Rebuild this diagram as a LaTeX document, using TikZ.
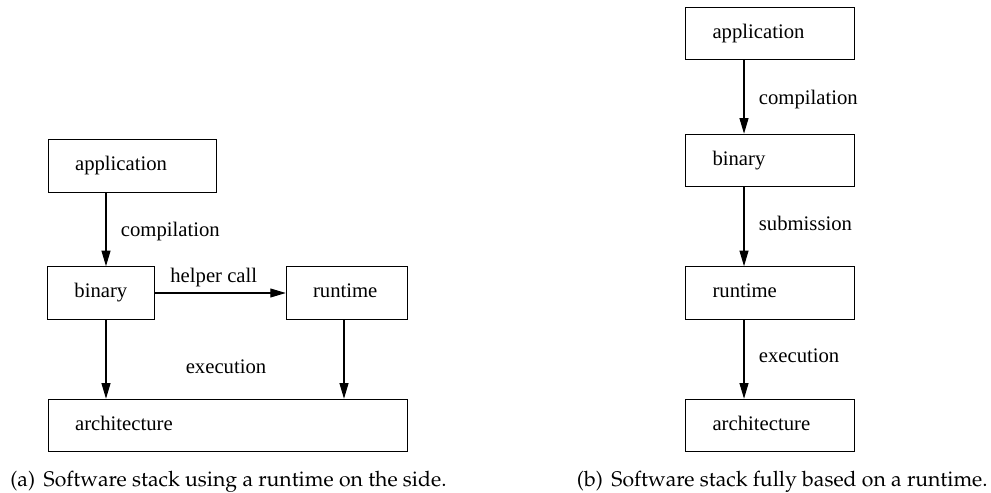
\documentclass[tikz,border=0pt]{standalone}
\usepackage[T1]{fontenc}
\usepackage{fontspec}
\setmainfont{Liberation Serif}
\usepackage{tikz}
\usetikzlibrary{arrows.meta}
\usetikzlibrary{positioning}
\tikzstyle{line} = [draw, -{Triangle[length=9pt,width=5.2pt]}, line width=0.6pt]
\tikzstyle{layer} = [draw, line width=0.6pt, minimum height=30.5pt, inner xsep=15.5pt, align=left, text height=8.2pt, text depth=2.6pt, font=\fontsize{12}{14}\selectfont]
\tikzstyle{lbl} = [font=\fontsize{12}{14}\selectfont]
\newcommand{\capfont}{\fontencoding{T1}\fontfamily{ppl}\fontsize{12.3}{14}\selectfont}

\begin{document}
\begin{tikzpicture}[x=0.58pt, y=-0.58pt]
	\useasboundingbox (0,0) rectangle (991,493);
	% -------------- Stack (a) --------------
	\node[layer, text width=66.6pt] (appA)  at (132.5,166)   {application};
	\node[layer, text width=30.8pt] (binA)  at (101,293)     {binary};
	\node[layer, text width=39.4pt] (rtA)   at (347,293)     {runtime};
	\node[layer, text width=177.4pt] (archA) at (228,425.5)  {architecture};
	\coordinate (colA) at (106,0);
	\coordinate (colB) at (344,0);
	\draw[line] (appA.south -| colA) -- node[lbl, right=5pt, pos=0.53]{compilation} (binA.north -| colA);
	\draw[line] (binA.east) -- node[lbl, above, pos=0.45]{helper call} (rtA.west);
	\draw[line] (binA.south -| colA) -- (archA.north -| colA);
	\draw[line] (rtA.south -| colB)  -- (archA.north -| colB);
	\node[lbl] (execA) at (226,367) {execution};
	\node[anchor=west, inner sep=0] (capA) at (10,481.5) {\capfont (a)\hspace{5pt}Software stack using a runtime on the side.};
	% -------------- Stack (b) --------------
	\node[layer, text width=67pt] (appB)  at (770.3,33.5)  {application};
	\node[layer, text width=67pt] (binB)  at (770.3,160.5) {binary};
	\node[layer, text width=67pt] (rtB)   at (770.3,293)   {runtime};
	\node[layer, text width=67pt] (archB) at (770.3,425.5) {architecture};
	\coordinate (colC) at (744,0);
	\draw[line] (appB.south -| colC) -- node[lbl, right=5pt, pos=0.54]{compilation} (binB.north -| colC);
	\draw[line] (binB.south -| colC) -- node[lbl, right=5pt, pos=0.46]{submission}  (rtB.north -| colC);
	\draw[line] (rtB.south -| colC)  -- node[lbl, right=5pt, pos=0.46]{execution}   (archB.north -| colC);
	\node[anchor=east, inner sep=0] (capB) at (988,481.5) {\capfont (b)\hspace{5pt}Software stack fully based on a runtime.};
\end{tikzpicture}
\end{document}
